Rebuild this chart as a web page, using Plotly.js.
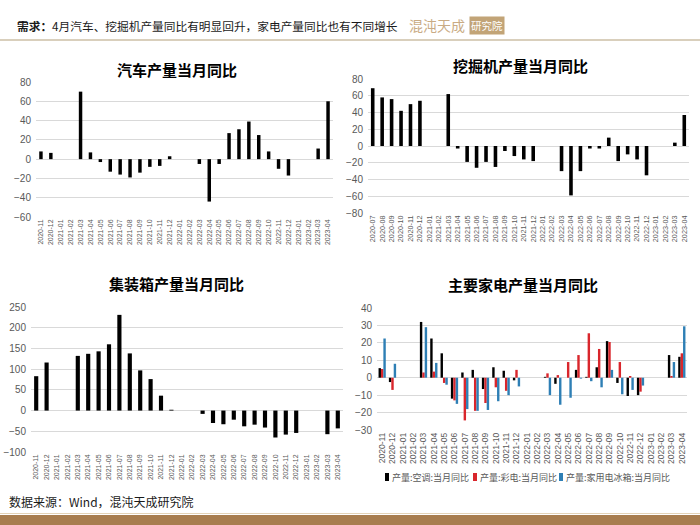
<!DOCTYPE html>
<html>
<head>
<meta charset="utf-8">
<script src="https://cdn.plot.ly/plotly-3.0.1.min.js"></script>
<style>
  body { margin: 0; padding: 0; background: #fff; }
  #chart { width: 700px; height: 525px; }
</style>
</head>
<body>
<div id="chart"></div>
<script>
// months 2020-11 .. 2023-04
var monthsA = ["2020-11","2020-12","2021-01","2021-02","2021-03","2021-04","2021-05","2021-06",
  "2021-07","2021-08","2021-09","2021-10","2021-11","2021-12","2022-01","2022-02","2022-03",
  "2022-04","2022-05","2022-06","2022-07","2022-08","2022-09","2022-10","2022-11","2022-12",
  "2023-01","2023-02","2023-03","2023-04"];
// months 2020-07 .. 2023-04 (excavator)
var monthsB = ["2020-07","2020-08","2020-09","2020-10","2020-11","2020-12","2021-01","2021-02",
  "2021-03","2021-04","2021-05","2021-06","2021-07","2021-08","2021-09","2021-10","2021-11",
  "2021-12","2022-01","2022-02","2022-03","2022-04","2022-05","2022-06","2022-07","2022-08",
  "2022-09","2022-10","2022-11","2022-12","2023-01","2023-02","2023-03","2023-04"];

var carYoy = [8, 6.5, null, null, 70, 7, -3, -13, -16, -19, -14, -8, -7, 3, null, null, -5,
  -44, -5, 27, 31, 39, 25, 8, -10, -17, null, null, 11, 60];
var excavatorYoy = [69, 58, 56, 42, 50, 54, null, null, 62, -3, -19, -26, -19, -25, -6, -12,
  -16, -18, null, null, -30, -59, -30, -3, -3, 10, -18, -10, -16, -35, null, null, 4, 37];
var containerYoy = [83, 116, null, null, 132, 137, 143, 160, 231, 138, 97, 76, 36, 2, null, null,
  -8, -30, -33, -22, -38, -34, -41, -65, -58, -54, null, null, -57, -43];
var acYoy = [5.5, -2.5, null, null, 32, 22.5, 14, -12, 3, 4.5, -6.5, 6, 4, -1.5, null, null,
  0.5, -3.5, 0, 4.5, 0.5, 6, 21, -3, -10.5, -10, null, null, 13, 12];
var tvYoy = [5, -7, null, null, 3, 3.5, -3, -13, -24.5, -19, -14.5, -5.5, -7.5, 4.5, null, null,
  2.5, 1.5, 9, 13, 25.5, 16.5, 20.5, 9, 1, -8, null, null, 1, 14];
var fridgeYoy = [22.5, 8, null, null, 29, 8.5, -4, -15, -18, -19, -18.5, -13.5, -10, -5, null, null,
  -10, -15.5, -11.5, -0.5, -2, -5.5, 4.5, -9.5, -7, -4.5, null, null, 9, 29.5];

var seriesNames = ["产量:空调:当月同比", "产量:彩电:当月同比", "产量:家用电冰箱:当月同比"];
var seriesColors = ["#000000", "#d9262c", "#2e7fb5"];
var panelTitles = ["汽车产量当月同比", "挖掘机产量当月同比", "集装箱产量当月同比", "主要家电产量当月同比"];

var W = 700, H = 525;
function px(x) { return x / W; }
function py(y) { return 1 - y / H; }

var numFont = "Liberation Sans, Arial, Noto Sans CJK SC";
var cjkFont = "Noto Sans CJK SC, sans-serif";
var grey = "#595959";

var data = [
  { type: "bar", x: monthsA, y: carYoy, xaxis: "x", yaxis: "y", width: 0.35,
    marker: { color: "#000000" } },
  { type: "bar", x: monthsB, y: excavatorYoy, xaxis: "x2", yaxis: "y2", width: 0.38,
    marker: { color: "#000000" } },
  { type: "bar", x: monthsA, y: containerYoy, xaxis: "x3", yaxis: "y3", width: 0.4,
    marker: { color: "#000000" } },
  { type: "bar", x: monthsA, y: acYoy, xaxis: "x4", yaxis: "y4", name: seriesNames[0],
    marker: { color: seriesColors[0] } },
  { type: "bar", x: monthsA, y: tvYoy, xaxis: "x4", yaxis: "y4", name: seriesNames[1],
    marker: { color: seriesColors[1] } },
  { type: "bar", x: monthsA, y: fridgeYoy, xaxis: "x4", yaxis: "y4", name: seriesNames[2],
    marker: { color: seriesColors[2] } }
];

function xax(dom, anchor, size) {
  return { domain: dom, anchor: anchor, type: "category", tickangle: -90,
    tickmode: "linear", tick0: 0, dtick: 1,
    tickfont: { family: numFont, size: size, color: grey }, showgrid: false,
    showline: false, ticks: "", fixedrange: true };
}
function yax(dom, anchor, range, dtick) {
  return { domain: dom, anchor: anchor, range: range, dtick: dtick,
    tickfont: { family: numFont, size: 10, color: grey }, gridcolor: "#d9d9d9",
    gridwidth: 1, zeroline: true, zerolinecolor: "#d9d9d9", zerolinewidth: 1,
    showline: false, ticks: "", ticklabelstandoff: 4, fixedrange: true };
}

var annotations = [];
var titlePos = [[177, 70], [520, 65], [177, 283], [523, 284]];
panelTitles.forEach(function (t, i) {
  annotations.push({ text: "<b>" + t + "</b>", xref: "paper", yref: "paper",
    x: px(titlePos[i][0]), y: py(titlePos[i][1]), xanchor: "center", yanchor: "middle",
    showarrow: false, font: { family: cjkFont, size: 15, color: "#000" } });
});
annotations.push({ text: "<b>需求：</b>4月汽车、挖掘机产量同比有明显回升，家电产量同比也有不同增长",
  xref: "paper", yref: "paper", x: px(15), y: py(25), xanchor: "left", yanchor: "middle",
  showarrow: false, font: { family: cjkFont, size: 11.7, color: "#1a1a1a" } });
annotations.push({ text: "混沌天成", xref: "paper", yref: "paper", x: px(467), y: py(25),
  xanchor: "right", yanchor: "middle", showarrow: false,
  font: { family: cjkFont, size: 14, color: "#c9ab84" } });
annotations.push({ text: "研究院", xref: "paper", yref: "paper", x: px(469), y: py(25),
  xanchor: "left", yanchor: "middle", showarrow: false, bgcolor: "#c2a477", borderpad: 1,
  font: { family: cjkFont, size: 10.5, color: "#ffffff" } });
annotations.push({ text: "数据来源：Wind，混沌天成研究院", xref: "paper", yref: "paper",
  x: px(7), y: py(501), xanchor: "left", yanchor: "middle", showarrow: false,
  font: { family: cjkFont, size: 12, color: "#1a1a1a" } });

var shapes = [
  { type: "line", xref: "paper", yref: "paper", x0: 0, x1: 1, y0: py(40), y1: py(40),
    line: { color: "#cdbfa6", width: 1.5 } },
  { type: "rect", xref: "paper", yref: "paper", x0: 0, x1: 1, y0: 0, y1: py(515),
    fillcolor: "#a87d4f", line: { width: 0 } },
  { type: "line", xref: "paper", yref: "paper", x0: 0, x1: 1, y0: py(513.5), y1: py(513.5),
    line: { color: "#e4d3b8", width: 1 } }
];

// compact legend for the appliance panel
var legendX = [385, 473, 559];
seriesNames.forEach(function (n, i) {
  shapes.push({ type: "rect", xref: "paper", yref: "paper",
    x0: px(legendX[i]), x1: px(legendX[i] + 4), y0: py(481), y1: py(473),
    fillcolor: seriesColors[i], line: { width: 0 } });
  annotations.push({ text: n, xref: "paper", yref: "paper", x: px(legendX[i] + 5), y: py(477),
    xanchor: "left", yanchor: "middle", showarrow: false,
    font: { family: cjkFont, size: 9, color: grey } });
});

var layout = {
  width: W, height: H,
  margin: { l: 0, r: 0, t: 0, b: 0 },
  paper_bgcolor: "#ffffff", plot_bgcolor: "#ffffff",
  barmode: "group", bargap: 0.3, bargroupgap: 0,
  showlegend: false,
  xaxis: xax([px(36), px(333)], "y", 7),
  yaxis: yax([py(217), py(82)], "x", [-60, 80], 20),
  xaxis2: xax([px(368), px(689)], "y2", 7.3),
  yaxis2: yax([py(213), py(79)], "x2", [-80, 80], 20),
  xaxis3: xax([px(31), px(343)], "y3", 7),
  yaxis3: yax([py(452), py(307)], "x3", [-100, 250], 50),
  xaxis4: xax([px(377), px(687)], "y4", 8.5),
  yaxis4: yax([py(430), py(308)], "x4", [-30, 40], 10),
  annotations: annotations,
  shapes: shapes
};

Plotly.newPlot("chart", data, layout, { displayModeBar: false, staticPlot: true });
</script>
</body>
</html>
